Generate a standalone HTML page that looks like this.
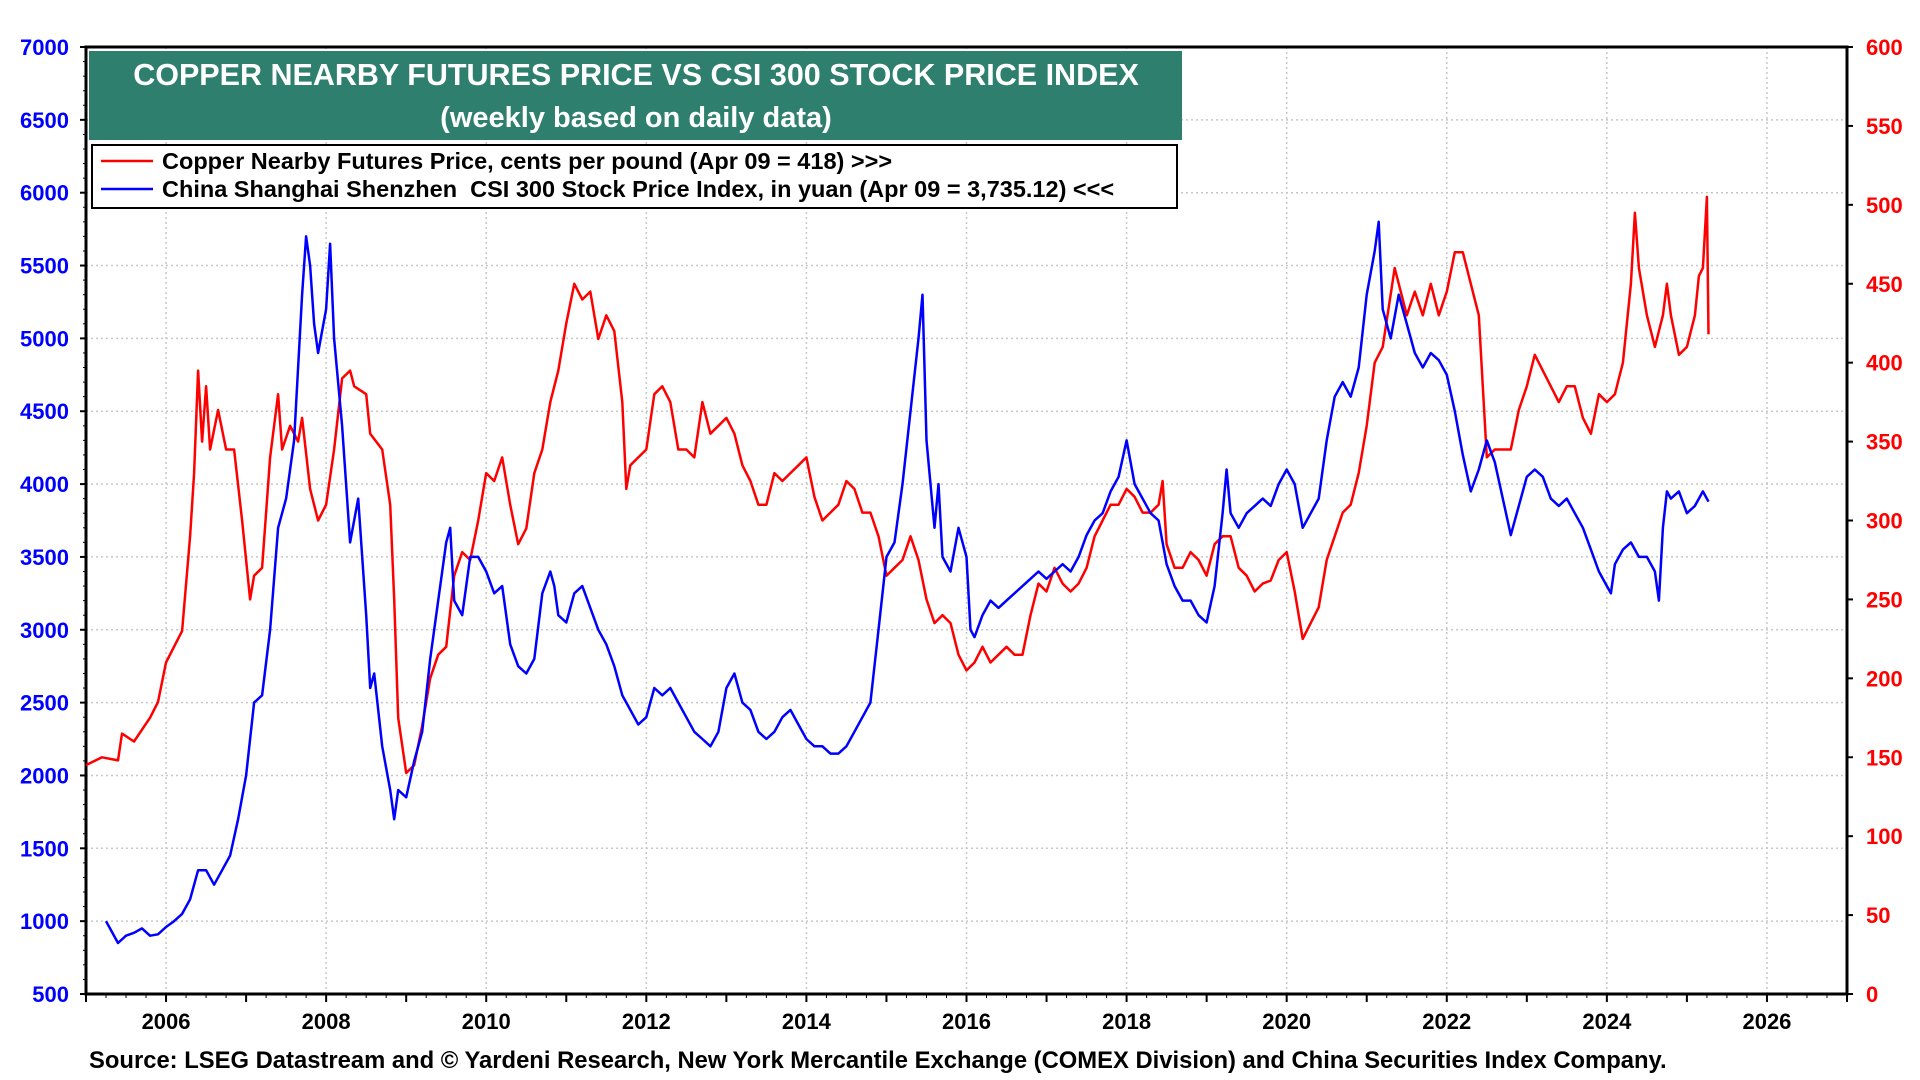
<!DOCTYPE html>
<html><head><meta charset="utf-8"><style>
body{margin:0;background:#fff;}
svg{display:block;font-family:"Liberation Sans",Arial,sans-serif;font-weight:bold;}
</style></head><body>
<svg id="chart" width="1920" height="1080">
<g id="grid"></g>
<g id="axes"></g>
<g id="series"></g>
<rect x="89" y="51" width="1093" height="89" fill="#2e7f6e"/>
<text x="636" y="85" text-anchor="middle" fill="#fff" font-size="30.5">COPPER NEARBY FUTURES PRICE VS CSI 300 STOCK PRICE INDEX</text>
<text x="636" y="127" text-anchor="middle" fill="#fff" font-size="29">(weekly based on daily data)</text>
<rect x="92" y="145" width="1085" height="63" fill="#fff" stroke="#000" stroke-width="2"/>
<line x1="101" y1="161" x2="153" y2="161" stroke="#ff0000" stroke-width="2.5"/>
<text x="162" y="169" font-size="23.5">Copper Nearby Futures Price, cents per pound (Apr 09 = 418) &gt;&gt;&gt;</text>
<line x1="101" y1="189" x2="153" y2="189" stroke="#0000ff" stroke-width="2.5"/>
<text x="162" y="197" font-size="23.5">China Shanghai Shenzhen&#160; CSI 300 Stock Price Index, in yuan (Apr 09 = 3,735.12) &lt;&lt;&lt;</text>
<text x="89" y="1068" font-size="23.8">Source: LSEG Datastream and © Yardeni Research, New York Mercantile Exchange (COMEX Division) and China Securities Index Company.</text>
</svg>
<script>
const leftTicks=[500,1000,1500,2000,2500,3000,3500,4000,4500,5000,5500,6000,6500,7000];
const rightTicks=[0,50,100,150,200,250,300,350,400,450,500,550,600];
const xTicks=[2006,2008,2010,2012,2014,2016,2018,2020,2022,2024,2026];
const copperDates=[2005.0,2005.2,2005.4,2005.45,2005.6,2005.8,2005.9,2006.0,2006.1,2006.2,2006.3,2006.35,2006.4,2006.45,2006.5,2006.55,2006.65,2006.75,2006.85,2006.95,2007.05,2007.1,2007.2,2007.3,2007.4,2007.45,2007.55,2007.65,2007.7,2007.8,2007.9,2008.0,2008.1,2008.2,2008.3,2008.35,2008.5,2008.55,2008.7,2008.8,2008.85,2008.9,2009.0,2009.1,2009.2,2009.3,2009.4,2009.5,2009.6,2009.7,2009.8,2009.9,2010.0,2010.1,2010.2,2010.3,2010.4,2010.5,2010.6,2010.7,2010.8,2010.9,2011.0,2011.1,2011.2,2011.3,2011.4,2011.5,2011.6,2011.7,2011.75,2011.8,2011.9,2012.0,2012.1,2012.2,2012.3,2012.4,2012.5,2012.6,2012.7,2012.8,2012.9,2013.0,2013.1,2013.2,2013.3,2013.4,2013.5,2013.6,2013.7,2013.8,2013.9,2014.0,2014.1,2014.2,2014.3,2014.4,2014.5,2014.6,2014.7,2014.8,2014.9,2015.0,2015.1,2015.2,2015.3,2015.4,2015.5,2015.6,2015.7,2015.8,2015.9,2016.0,2016.1,2016.2,2016.3,2016.4,2016.5,2016.6,2016.7,2016.8,2016.9,2017.0,2017.1,2017.2,2017.3,2017.4,2017.5,2017.6,2017.7,2017.8,2017.9,2018.0,2018.1,2018.2,2018.3,2018.4,2018.45,2018.5,2018.6,2018.7,2018.8,2018.9,2019.0,2019.1,2019.2,2019.3,2019.4,2019.5,2019.6,2019.7,2019.8,2019.9,2020.0,2020.1,2020.2,2020.3,2020.4,2020.5,2020.6,2020.7,2020.8,2020.9,2021.0,2021.1,2021.2,2021.35,2021.5,2021.6,2021.7,2021.8,2021.9,2022.0,2022.1,2022.2,2022.3,2022.4,2022.5,2022.6,2022.7,2022.8,2022.9,2023.0,2023.1,2023.2,2023.3,2023.4,2023.5,2023.6,2023.7,2023.8,2023.9,2024.0,2024.1,2024.2,2024.3,2024.35,2024.4,2024.5,2024.6,2024.7,2024.75,2024.8,2024.9,2025.0,2025.05,2025.1,2025.15,2025.2,2025.25,2025.27];
const copperValues=[145,150,148,165,160,175,185,210,220,230,290,330,395,350,385,345,370,345,345,300,250,265,270,340,380,345,360,350,365,320,300,310,345,390,395,385,380,355,345,310,250,175,140,145,170,200,215,220,265,280,275,300,330,325,340,310,285,295,330,345,375,395,425,450,440,445,415,430,420,375,320,335,340,345,380,385,375,345,345,340,375,355,360,365,355,335,325,310,310,330,325,330,335,340,315,300,305,310,325,320,305,305,290,265,270,275,290,275,250,235,240,235,215,205,210,220,210,215,220,215,215,240,260,255,270,260,255,260,270,290,300,310,310,320,315,305,305,310,325,285,270,270,280,275,265,285,290,290,270,265,255,260,262,275,280,255,225,235,245,275,290,305,310,330,360,400,410,460,430,445,430,450,430,445,470,470,450,430,340,345,345,345,370,385,405,395,385,375,385,385,365,355,380,375,380,400,450,495,460,430,410,430,450,430,405,410,420,430,455,460,505,418];
const csiDates=[2005.25,2005.3,2005.4,2005.5,2005.6,2005.7,2005.8,2005.9,2006.0,2006.1,2006.2,2006.3,2006.4,2006.5,2006.6,2006.7,2006.8,2006.9,2007.0,2007.1,2007.2,2007.3,2007.4,2007.5,2007.6,2007.7,2007.75,2007.8,2007.85,2007.9,2008.0,2008.05,2008.1,2008.2,2008.3,2008.4,2008.5,2008.55,2008.6,2008.7,2008.8,2008.85,2008.9,2009.0,2009.1,2009.2,2009.3,2009.4,2009.5,2009.55,2009.6,2009.7,2009.8,2009.9,2010.0,2010.1,2010.2,2010.3,2010.4,2010.5,2010.6,2010.7,2010.8,2010.85,2010.9,2011.0,2011.1,2011.2,2011.3,2011.4,2011.5,2011.6,2011.7,2011.8,2011.9,2012.0,2012.1,2012.2,2012.3,2012.4,2012.5,2012.6,2012.7,2012.8,2012.9,2013.0,2013.1,2013.2,2013.3,2013.4,2013.5,2013.6,2013.7,2013.8,2013.9,2014.0,2014.1,2014.2,2014.3,2014.4,2014.5,2014.6,2014.7,2014.8,2014.9,2015.0,2015.1,2015.2,2015.3,2015.4,2015.45,2015.5,2015.6,2015.65,2015.7,2015.8,2015.9,2016.0,2016.05,2016.1,2016.2,2016.3,2016.4,2016.5,2016.6,2016.7,2016.8,2016.9,2017.0,2017.1,2017.2,2017.3,2017.4,2017.5,2017.6,2017.7,2017.8,2017.9,2018.0,2018.1,2018.2,2018.3,2018.4,2018.5,2018.6,2018.7,2018.8,2018.9,2019.0,2019.1,2019.2,2019.25,2019.3,2019.4,2019.5,2019.6,2019.7,2019.8,2019.9,2020.0,2020.1,2020.2,2020.3,2020.4,2020.5,2020.6,2020.7,2020.8,2020.9,2021.0,2021.1,2021.15,2021.2,2021.3,2021.4,2021.5,2021.6,2021.7,2021.8,2021.9,2022.0,2022.1,2022.2,2022.3,2022.4,2022.5,2022.6,2022.7,2022.8,2022.9,2023.0,2023.1,2023.2,2023.3,2023.4,2023.5,2023.6,2023.7,2023.8,2023.9,2024.0,2024.05,2024.1,2024.2,2024.3,2024.4,2024.5,2024.6,2024.65,2024.7,2024.75,2024.8,2024.9,2025.0,2025.1,2025.2,2025.27];
const csiValues=[1000,950,850,900,920,950,900,910,960,1000,1050,1150,1350,1350,1250,1350,1450,1700,2000,2500,2550,3000,3700,3900,4300,5300,5700,5500,5100,4900,5200,5650,5000,4400,3600,3900,3100,2600,2700,2200,1900,1700,1900,1850,2100,2300,2800,3200,3600,3700,3200,3100,3500,3500,3400,3250,3300,2900,2750,2700,2800,3250,3400,3300,3100,3050,3250,3300,3150,3000,2900,2750,2550,2450,2350,2400,2600,2550,2600,2500,2400,2300,2250,2200,2300,2600,2700,2500,2450,2300,2250,2300,2400,2450,2350,2250,2200,2200,2150,2150,2200,2300,2400,2500,3000,3500,3600,4000,4500,5000,5300,4300,3700,4000,3500,3400,3700,3500,3000,2950,3100,3200,3150,3200,3250,3300,3350,3400,3350,3400,3450,3400,3500,3650,3750,3800,3950,4050,4300,4000,3900,3800,3750,3450,3300,3200,3200,3100,3050,3300,3800,4100,3800,3700,3800,3850,3900,3850,4000,4100,4000,3700,3800,3900,4300,4600,4700,4600,4800,5300,5600,5800,5200,5000,5300,5100,4900,4800,4900,4850,4750,4500,4200,3950,4100,4300,4150,3900,3650,3850,4050,4100,4050,3900,3850,3900,3800,3700,3550,3400,3300,3250,3450,3550,3600,3500,3500,3400,3200,3700,3950,3900,3950,3800,3850,3950,3880];

const L=86,R=1847,T=47,B=994;
const xs=y=>L+(y-2005)/(2027-2005)*(R-L);
const yl=v=>B-(v-500)/(7000-500)*(B-T);
const yr=v=>B-(v-0)/(600-0)*(B-T);
const NS='http://www.w3.org/2000/svg';
function mk(tag,attrs,parent){const e=document.createElementNS(NS,tag);for(const k in attrs)e.setAttribute(k,attrs[k]);parent.appendChild(e);return e;}
const grid=document.getElementById('grid'),axes=document.getElementById('axes'),series=document.getElementById('series');
leftTicks.forEach(v=>{
  const g=mk('line',{x1:L,x2:R,y1:yl(v),y2:yl(v),stroke:'#c8c8c8','stroke-width':1.5,'stroke-dasharray':'2,3'},grid);
  
  
  const t=mk('text',{x:69,y:yl(v)+8,'text-anchor':'end','font-size':22,fill:'#0000ff'},axes);
  t.textContent=v;
  
  
  mk('line',{x1:L-6,x2:L,y1:yl(v),y2:yl(v),stroke:'#000','stroke-width':2},axes);
});
for(let v=600;v<7000;v+=100){mk('line',{x1:L-3,x2:L,y1:yl(v),y2:yl(v),stroke:'#000','stroke-width':1},axes);}
rightTicks.forEach(v=>{
  const t=mk('text',{x:1866,y:yr(v)+8,'text-anchor':'start','font-size':22,fill:'#ff0000'},axes);
  t.textContent=v;
  
  
  mk('line',{x1:R,x2:R+6,y1:yr(v),y2:yr(v),stroke:'#000','stroke-width':2},axes);
});
xTicks.forEach(v=>{
  const g=mk('line',{x1:xs(v),x2:xs(v),y1:T,y2:B,stroke:'#c8c8c8','stroke-width':1.5,'stroke-dasharray':'2,3'},grid);
  
  
  const t=mk('text',{x:xs(v),y:1029,'text-anchor':'middle','font-size':22,fill:'#000'},axes);
  t.textContent=v;
  
  
});
for(let y=2005;y<=2027;y+=0.25){const big=Math.abs(y-Math.round(y))<0.01;mk('line',{x1:xs(y),x2:xs(y),y1:B,y2:B+(big?8:4),stroke:'#000','stroke-width':big?2:1},axes);}
const frame=mk('rect',{x:L,y:T,width:R-L,height:B-T,fill:'none',stroke:'#000','stroke-width':3},axes);


function line(dates,vals,fy,color,name){
  const d=dates.map((x,i)=>(i?'L':'M')+xs(x).toFixed(1)+','+fy(vals[i]).toFixed(1)).join('');
  const p=mk('path',{d:d,fill:'none',stroke:color,'stroke-width':2.5,'stroke-linejoin':'round'},series);
  
  
}
line(copperDates,copperValues,yr,'#ff0000','copper-line');
line(csiDates,csiValues,yl,'#0000ff','csi300-line');
</script>
</body></html>
